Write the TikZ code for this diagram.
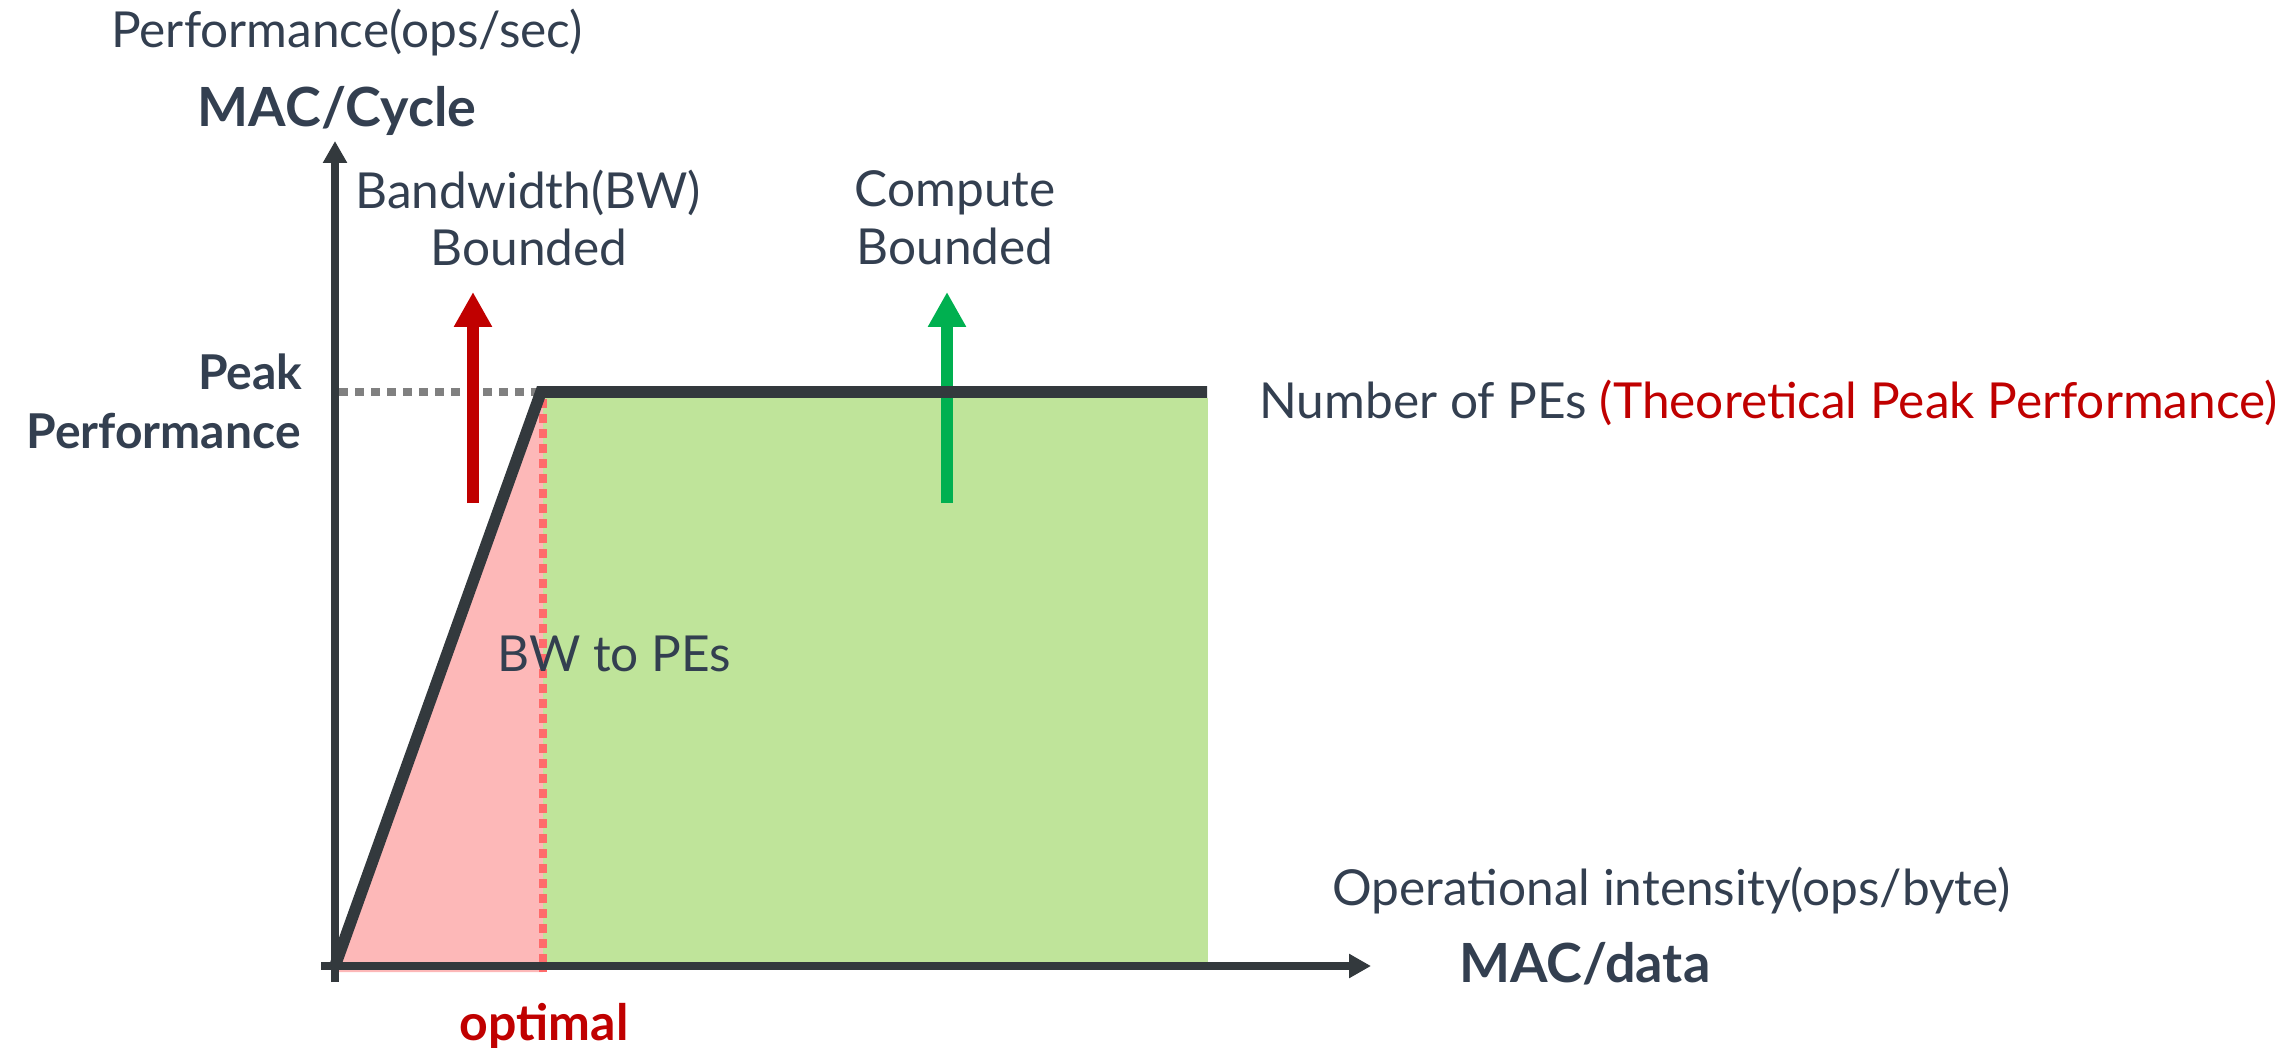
\documentclass[tikz,border=0pt]{standalone}
\usepackage{fontspec}
\setmainfont{Lato}
\usetikzlibrary{arrows.meta}
\definecolor{txt}{HTML}{333F50}
\definecolor{ink}{HTML}{33393D}
\definecolor{darkred}{HTML}{C00000}
\definecolor{arrgreen}{HTML}{00B050}
\definecolor{fillgreen}{HTML}{BFE49A}
\definecolor{fillpink}{HTML}{FDB8B8}
\definecolor{dashred}{HTML}{FF6B6B}
\definecolor{dotgray}{HTML}{808080}
\tikzset{
  lbl/.style={inner sep=0pt, text=txt, font=\fontsize{24.8pt}{29pt}\selectfont},
  blbl/.style={inner sep=0pt, text=txt, font=\fontsize{27pt}{32pt}\selectfont\bfseries},
  axisline/.style={draw=ink, line width=4pt, -{Triangle[width=11.5pt,length=11pt]}},
  roofline/.style={draw=ink, line width=5.8pt, miter limit=20},
  boundarrow/.style={line width=6pt, -{Triangle[width=18pt,length=17.5pt]}},
}
\begin{document}
\begin{tikzpicture}[x=0.5pt,y=-0.5pt]
\useasboundingbox (0,0) rectangle (2288,1048);
% coordinates
\coordinate (o) at (335,966);
\coordinate (ybot) at (335,982);
\coordinate (ytop) at (335,141);
\coordinate (xbeg) at (321,966);
\coordinate (xend) at (1371,966);
\coordinate (knee) at (541,392);
\coordinate (roofend) at (1207,392);
\coordinate (optlow) at (543,972);
\coordinate (opttop) at (543,399);
\coordinate (rb) at (473,503);
\coordinate (rt) at (473,292);
\coordinate (gb) at (947,503);
\coordinate (gt) at (947,292);
% fills
\fill[fillgreen] (541,398) rectangle (1208,966);
\fill[fillpink] (o) -- (543,392) -- (optlow) -- (335,972) -- cycle;
% dashed lines
\draw[dashred, line width=3.8pt, dash pattern=on 4.5pt off 3pt] (opttop) -- (optlow);
\draw[dotgray, line width=4pt, dash pattern=on 4.5pt off 3.5pt] (339,392) -- (knee);
% bounded arrows
\draw[boundarrow, darkred] (rb) -- (rt);
\draw[boundarrow, arrgreen] (gb) -- (gt);
% axes
\draw[axisline] (ybot) -- (ytop);
\draw[axisline] (xbeg) -- (xend);
% roofline
\draw[roofline] (o) -- (knee) -- (roofend);
% labels
\node[lbl, anchor=base] (perf) at (347,48) {Performance(ops/sec)};
\node[blbl, anchor=base] (maccycle) at (337,127) {MAC/Cycle};
\node[lbl, anchor=base] (bw1) at (528,209) {Bandwidth(BW)};
\node[lbl, anchor=base] (bw2) at (529,266) {Bounded};
\node[lbl, anchor=base] (cb1) at (955,207) {Compute};
\node[lbl, anchor=base] (cb2) at (955,265) {Bounded};
\node[blbl, font=\fontsize{24pt}{28pt}\selectfont\bfseries, anchor=base east] (peak1) at (303,390) {Peak};
\node[blbl, font=\fontsize{24pt}{28pt}\selectfont\bfseries, anchor=base east] (peak2) at (301,448) {Performance};
\node[lbl, anchor=base west] (npe) at (1259,418) {Number of PEs \textcolor{darkred}{(Theoretical Peak Performance)}};
\node[lbl, anchor=base west] (bwpe) at (497,671) {BW to PEs};
\node[lbl, anchor=base west] (opint) at (1332,905) {Operational intensity(ops/byte)};
\node[blbl, anchor=base west] (macdata) at (1459,982) {MAC/data};
\node[blbl, text=darkred, font=\fontsize{25pt}{30pt}\selectfont\bfseries, anchor=base] (optimal) at (544,1040) {optimal};
\end{tikzpicture}
\end{document}
